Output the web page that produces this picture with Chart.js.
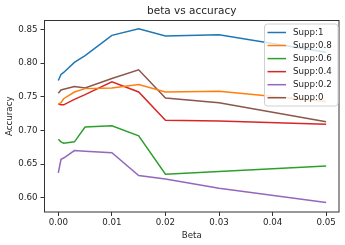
<!DOCTYPE html>
<html>
<head>
<meta charset="utf-8">
<script src="https://cdn.jsdelivr.net/npm/chart.js@4.4.0/dist/chart.umd.min.js"></script>
<style>
  html, body { margin: 0; padding: 0; background: #fff; }
  #wrap { width: 345px; height: 245px; }
</style>
</head>
<body>
<div id="wrap"><canvas id="chart" width="345" height="245"></canvas></div>
<script>
// beta values on the x axis
const betas = [0, 0.0005, 0.001, 0.003, 0.005, 0.01, 0.015, 0.02, 0.03, 0.05];

// accuracy per support level
const supp1  = [0.774, 0.783, 0.786, 0.801, 0.811, 0.841, 0.851, 0.840, 0.842, 0.816];
const supp08 = [0.739, 0.741, 0.747, 0.757, 0.762, 0.763, 0.768, 0.757, 0.758, 0.743];
const supp06 = [0.687, 0.683, 0.681, 0.683, 0.705, 0.707, 0.692, 0.635, 0.639, 0.647];
const supp04 = [0.739, 0.738, 0.738, 0.746, 0.753, 0.772, 0.757, 0.715, 0.714, 0.709];
const supp02 = [0.637, 0.657, 0.659, 0.670, 0.669, 0.667, 0.633, 0.628, 0.614, 0.593];
const supp0  = [0.755, 0.760, 0.761, 0.765, 0.763, 0.777, 0.790, 0.748, 0.741, 0.713];

const labels = ['Supp:1', 'Supp:0.8', 'Supp:0.6', 'Supp:0.4', 'Supp:0.2', 'Supp:0'];
const colors = ['#1f77b4', '#ff7f0e', '#2ca02c', '#d62728', '#9467bd', '#8c564b'];
const series = [supp1, supp08, supp06, supp04, supp02, supp0];

const xTicks = [0, 0.01, 0.02, 0.03, 0.04, 0.05];
const yTicks = [0.60, 0.65, 0.70, 0.75, 0.80, 0.85];

const FONT = 'DejaVu Sans';
const TXT = '#262626';
const FS = 8.7;

// frame, title and legend drawn like matplotlib
const decor = {
    id: 'decor',
    afterDraw(chart) {
        const ctx = chart.ctx;
        const a = chart.chartArea;
        ctx.save();
        ctx.strokeStyle = '#333';
        ctx.lineWidth = 1;
        ctx.strokeRect(a.left, a.top, a.right - a.left, a.bottom - a.top);

        ctx.fillStyle = TXT;
        ctx.font = '10.5px ' + FONT;
        ctx.textAlign = 'center';
        ctx.textBaseline = 'middle';
        ctx.fillText('beta vs accuracy', (a.left + a.right) / 2, 11.7);

        // legend
        const bx = 264.5, by = 24, bw = 73.5, bh = 82;
        ctx.beginPath();
        ctx.roundRect(bx, by, bw, bh, 3);
        ctx.fillStyle = 'rgba(255,255,255,0.8)';
        ctx.fill();
        ctx.strokeStyle = '#d0d0d0';
        ctx.stroke();
        ctx.font = FS + 'px ' + FONT;
        ctx.textAlign = 'left';
        chart.data.datasets.forEach((ds, i) => {
            const y = 32.5 + i * 13.05;
            ctx.strokeStyle = ds.borderColor;
            ctx.lineWidth = 1.5;
            ctx.beginPath();
            ctx.moveTo(267.5, y);
            ctx.lineTo(286, y);
            ctx.stroke();
            ctx.fillStyle = TXT;
            ctx.fillText(ds.label, 293, y);
        });
        ctx.restore();
    }
};

new Chart(document.getElementById('chart'), {
    type: 'line',
    data: {
        datasets: series.map((s, i) => ({
            label: labels[i],
            data: s.map((v, j) => ({ x: betas[j], y: v })),
            borderColor: colors[i],
            backgroundColor: colors[i],
            borderWidth: 1.5,
            pointRadius: 0,
            tension: 0,
            fill: false
        }))
    },
    options: {
        responsive: false,
        animation: false,
        layout: { padding: { left: 0, right: 6, top: 20.5, bottom: 0 } },
        plugins: {
            legend: { display: false },
            title: { display: false },
            tooltip: { enabled: false }
        },
        scales: {
            x: {
                type: 'linear',
                min: -0.00258,
                max: 0.0524,
                afterBuildTicks: s => { s.ticks = xTicks.map(v => ({ value: v })); },
                afterFit: s => { s.height = 33; },
                grid: { display: true, drawOnChartArea: false, tickLength: 4, color: '#333' },
                border: { display: false },
                ticks: {
                    padding: 2,
                    color: TXT,
                    font: { family: FONT, size: FS },
                    maxRotation: 0,
                    callback: v => v.toFixed(2)
                },
                title: {
                    display: true,
                    text: 'Beta',
                    color: TXT,
                    font: { family: FONT, size: FS },
                    padding: { top: 0, bottom: 4 }
                }
            },
            y: {
                type: 'linear',
                min: 0.5789,
                max: 0.8631,
                afterBuildTicks: s => { s.ticks = yTicks.map(v => ({ value: v })); },
                afterFit: s => { s.width = 44.5; },
                grid: { display: true, drawOnChartArea: false, tickLength: 4, color: '#333' },
                border: { display: false },
                ticks: {
                    padding: 3,
                    color: TXT,
                    font: { family: FONT, size: FS },
                    callback: v => v.toFixed(2)
                },
                title: {
                    display: true,
                    text: 'Accuracy',
                    color: TXT,
                    font: { family: FONT, size: FS },
                    padding: { top: 5, bottom: 0 }
                }
            }
        }
    },
    plugins: [decor]
});
</script>
</body>
</html>
